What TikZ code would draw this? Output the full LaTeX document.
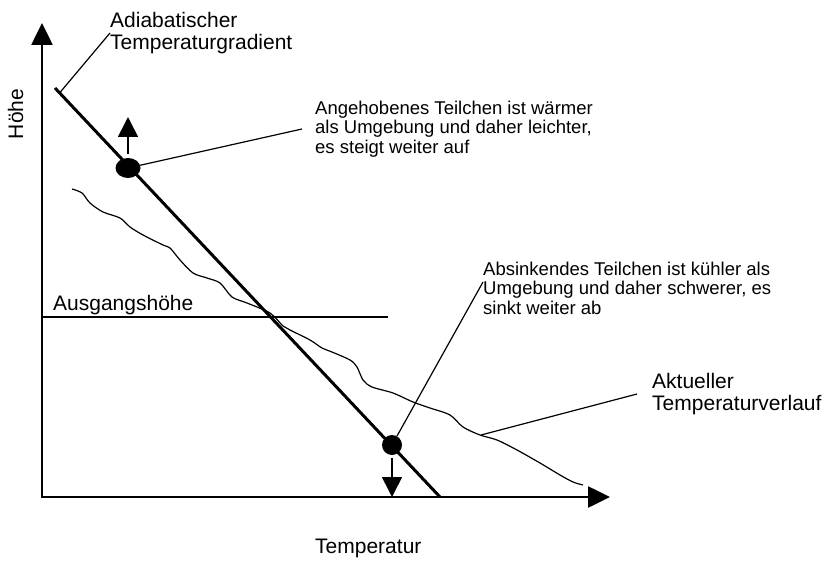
\documentclass[tikz,border=0pt]{standalone}
\usepackage{fontspec}
\setmainfont{Liberation Sans}
\usetikzlibrary{arrows.meta,shapes.geometric}

\begin{document}
\begin{tikzpicture}[x=1pt, y=-1pt,
  axis/.style={line width=2.6pt, {Triangle[length=22pt,width=21pt]}-{Triangle[length=22pt,width=21pt]}},
  gradient/.style={line width=3pt},
  thin line/.style={line width=1.2pt},
  push/.style={line width=1.6pt, -{Triangle[length=20pt,width=20pt]}},
  parcel/.style={fill, inner sep=0pt},
  tag/.style={font=\fontsize{21}{22}\selectfont, align=left, inner sep=0pt},
  note/.style={font=\fontsize{18.5}{19.5}\selectfont, align=left, inner sep=0pt}]
\useasboundingbox (0,0) rectangle (826,561);
\coordinate (ytip) at (42,23);
\coordinate (origin) at (42,497);
\coordinate (xtip) at (610,497);
\draw[axis] (ytip) -- (origin) -- (xtip);
\draw[thin line] (42,317) -- (388,317);
\draw[thin line] plot[smooth, tension=0.5] coordinates {(72,189) (82,193) (90,203) (103,212) (120,218) (130,227) (143,235) (163,245) (170,248) (180,260) (193,273) (207,278) (220,283) (232,297) (247,303) (270,313) (283,326) (290,330) (310,340) (322,348) (332,352) (350,360) (357,367) (363,380) (372,387) (393,393) (413,402) (430,408) (450,415) (463,427) (480,435) (497,440) (517,450) (540,463) (560,475) (573,482) (583,485)};
\coordinate (curvepin) at (481,435);
\draw[gradient] (55,88) coordinate (adtop) -- coordinate[pos=0.012] (adpin) (440,497) coordinate (adbot);
\node[parcel, ellipse, minimum width=25pt, minimum height=20pt] (hot) at (128,168) {};
\node[parcel, circle, minimum size=20pt] (cold) at (392,445) {};
\coordinate (rise) at (128,117);
\coordinate (sink) at (392,497);
\draw[push, shorten <=4pt] (hot) -- (rise);
\draw[push, shorten <=3pt] (cold) -- (sink);
\node[tag, anchor=west] (adiablabel) at (110,33) {Adiabatischer\\Temperaturgradient};
\draw[thin line] (adpin) -- (adiablabel.west);
\node[note, anchor=west, inner xsep=13pt] (hotlabel) at (302,129) {Angehobenes Teilchen ist wärmer\\als Umgebung und daher leichter,\\es steigt weiter auf};
\draw[thin line] (hot) -- (hotlabel.west);
\node[note, anchor=north west] (coldlabel) at (483,261.5) {Absinkendes Teilchen ist kühler als\\Umgebung und daher schwerer, es\\sinkt weiter ab};
\draw[thin line] (cold) -- ([yshift=6pt]coldlabel.west);
\node[tag, anchor=west, inner xsep=15pt] (curvelabel) at (637,394) {Aktueller\\Temperaturverlauf};
\draw[thin line] (curvepin) -- (curvelabel.west);
\node[tag, anchor=base west] (levellabel) at (53,310) {Ausgangshöhe};
\node[tag, anchor=base west] (xlabel) at (315,553) {Temperatur};
\node[tag, rotate=90, anchor=base] (ylabel) at (23,114) {Höhe};
\end{tikzpicture}
\end{document}
